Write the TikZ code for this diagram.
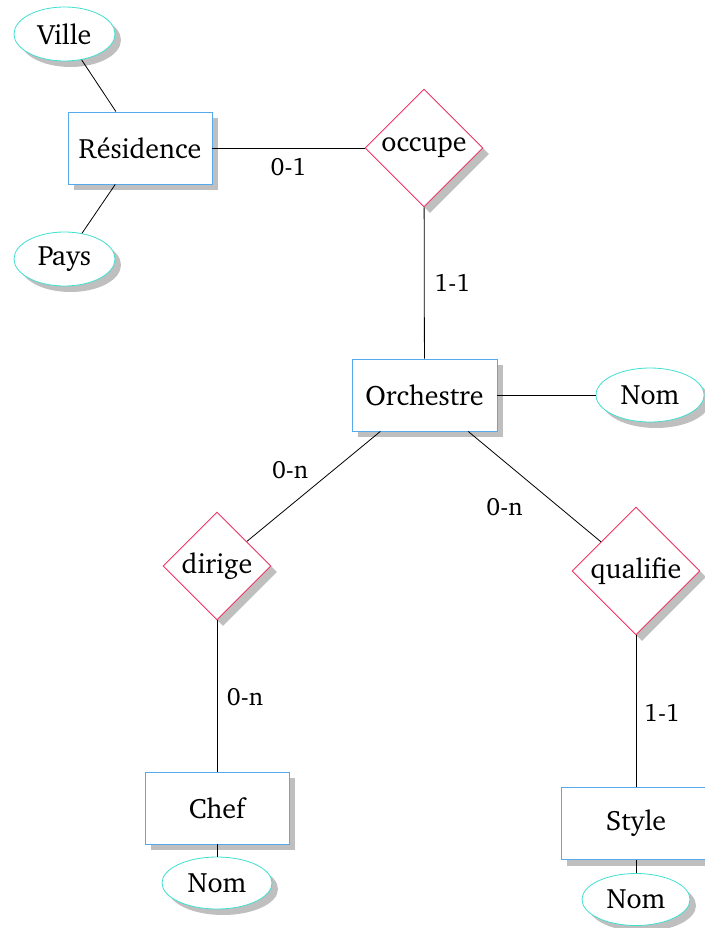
\documentclass[tikz,border=0pt]{standalone}
\usepackage[T1]{fontenc}
\usepackage{charter}
\usetikzlibrary{shapes.geometric,shadows}
\definecolor{entc}{HTML}{55AAEE}
\definecolor{relc}{HTML}{EE3366}
\definecolor{attc}{HTML}{40E0D0}
\definecolor{shc}{HTML}{BFBFBF}
\tikzset{
  shad/.style={drop shadow={shadow xshift=6pt,shadow yshift=-6pt,fill=shc,opacity=1}},
  entity/.style={rectangle,draw=entc,line width=0.9pt,fill=white,minimum width=144pt,minimum height=72pt,inner sep=0pt,shad},
  relation/.style={diamond,aspect=1,draw=relc,line width=0.9pt,fill=white,inner sep=0pt,shad},
  attrib/.style={ellipse,draw=attc,line width=0.8pt,fill=white,minimum height=54pt,inner sep=0pt,shad},
  link/.style={draw=black,line width=0.8pt},
  card/.style={font=\fontsize{25}{30}\selectfont,inner sep=0pt}
}
\begin{document}
\begin{tikzpicture}[x=1pt,y=-1pt,font=\fontsize{28}{33}\selectfont]
\useasboundingbox (0,0) rectangle (704,928);
\node[attrib,minimum width=101pt] (ville) at (64.5,34) {Ville};
\node[entity] (res) at (140,148) {Résidence};
\node[attrib,minimum width=101pt] (pays) at (64.5,259) {Pays};
\node[relation,minimum width=118pt,minimum height=118pt] (occ) at (424,148) {occupe};
\node[entity,minimum width=145pt] (orch) at (424.5,395) {Orchestre};
\node[attrib,minimum width=108pt] (nom1) at (650,395) {Nom};
\node[relation,minimum width=108pt,minimum height=108pt] (dir) at (217,566) {dirige};
\node[relation,minimum width=128pt,minimum height=128pt] (qual) at (636,571) {qualifie};
\node[entity] (chef) at (217,808) {Chef};
\node[attrib,minimum width=110pt,minimum height=52pt] (nom2) at (217,883) {Nom};
\node[entity,minimum width=150pt] (style) at (636,823.5) {Style};
\node[attrib,minimum width=108pt,minimum height=52pt] (nom3) at (636,899.5) {Nom};
\draw[link] (ville) -- (res);
\draw[link] (pays) -- (res);
\draw[link] (res) -- node[card,midway,yshift=-19pt] {0-1} (occ);
\draw[link] (occ) -- node[card,midway,xshift=28pt] {1-1} (orch);
\draw[link] (orch) -- (nom1);
\draw[link] (orch) -- node[card,midway,xshift=-23.5pt,yshift=16.5pt] {0-n} (dir);
\draw[link] (orch) -- node[card,midway,xshift=-30pt,yshift=-20.5pt] {0-n} (qual);
\draw[link] (dir) -- node[card,midway,xshift=28pt,yshift=-1.5pt] {0-n} (chef);
\draw[link] (qual) -- node[card,midway,xshift=26pt,yshift=-1.5pt] {1-1} (style);
\draw[link] (chef) -- (nom2);
\draw[link] (style) -- (nom3);
\end{tikzpicture}
\end{document}
